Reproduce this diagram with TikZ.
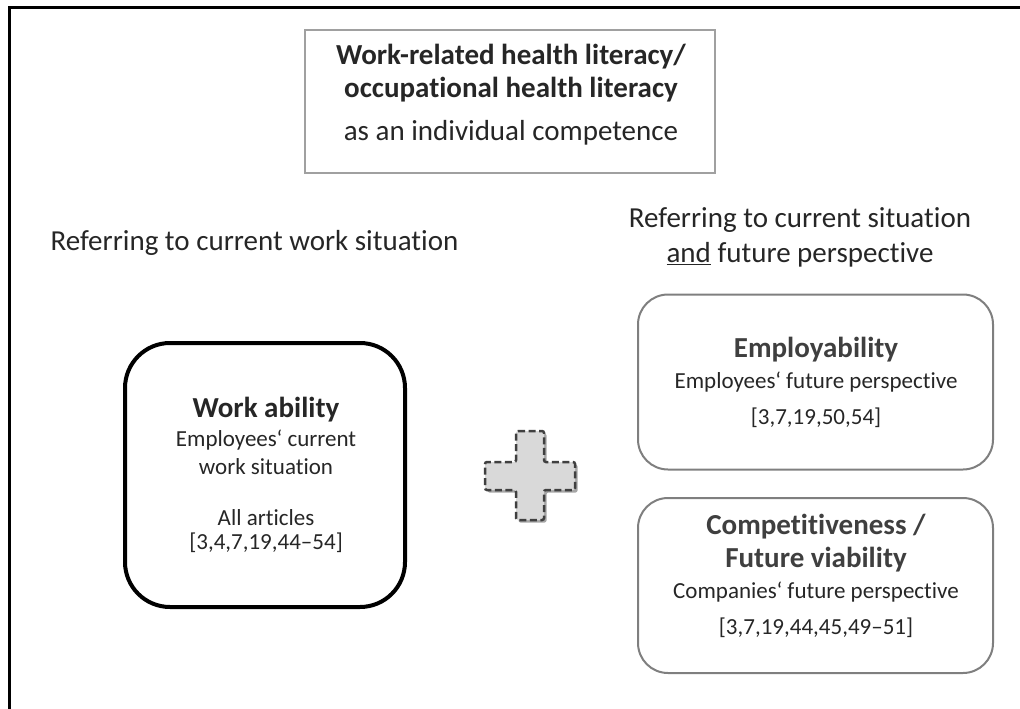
\documentclass[tikz,border=0pt]{standalone}
\usepackage{fontspec}
\setmainfont{Carlito}[Ligatures=NoCommon]
\usetikzlibrary{shadows}
\definecolor{txt}{HTML}{262626}
\definecolor{boxtxt}{HTML}{3F3F3F}
\definecolor{grayline}{HTML}{7F7F7F}
\definecolor{lightline}{HTML}{A0A0A0}
\definecolor{plusfill}{HTML}{D9D9D9}
\definecolor{plusline}{HTML}{404040}
\begin{document}
\begin{tikzpicture}[x=1pt,y=-1pt,
  lbl/.style={inner sep=0pt, text=txt, font=\fontsize{29}{34}\selectfont, align=center},
  boxtitle/.style={inner sep=0pt, font=\bfseries\fontsize{29}{34}\selectfont, align=center},
  boxsub/.style={inner sep=0pt, font=\fontsize{23}{27}\selectfont, align=center},
  graybox/.style={draw=grayline, line width=2pt, rounded corners=30pt, minimum width=355pt, minimum height=175pt, inner sep=0pt},
  blackbox/.style={draw=black, line width=4pt, rounded corners=45pt, minimum width=280pt, minimum height=264pt, inner sep=0pt},
  topbox/.style={draw=lightline, line width=1.5pt, minimum width=410pt, minimum height=143pt, inner sep=0pt},
  plusshape/.style={draw=plusline, fill=plusfill, line width=2.5pt, dash pattern=on 7pt off 3.5pt, rounded corners=2pt,
     drop shadow={shadow xshift=2.5pt, shadow yshift=-2.5pt, opacity=0.35, fill=black}}
]
\useasboundingbox (0,0) rectangle (1020,709);
% outer frame (left and top edges)
\draw[line width=3pt, black] (9,709) -- (9,8) -- (1020,8);

% top box
\node[topbox] (top) at (510,101.5) {};
\node[boxtitle, text=txt] (t1) at (511,57) {Work-related health literacy/};
\node[boxtitle, text=txt] (t2) at (511,90) {occupational health literacy};
\node[lbl] (t3) at (511,133) {as an individual competence};

% headings
\node[lbl] (hl) at (254.5,243) {Referring to current work situation};
\node[lbl] (hr1) at (800,220) {Referring to current situation};
\node[lbl] (hr2) at (800,255) {\underline{and} future perspective};

% work ability box
\node[blackbox] (wa) at (265,475) {};
\node[boxtitle, text=txt] (wa1) at (266,410) {Work ability};
\node[boxsub, text=txt] (wa2) at (266,440) {Employees‘ current};
\node[boxsub, text=txt] (wa3) at (266,467) {work situation};
\node[boxsub, text=txt] (wa4) at (266,518) {All articles};
\node[boxsub, text=txt] (wa5) at (266,543) {[3,4,7,19,44–54]};

% employability box
\node[graybox] (em) at (815.5,382) {};
\node[boxtitle, text=boxtxt] (em1) at (816,350) {Employability};
\node[boxsub, text=txt] (em2) at (816,382) {Employees‘ future perspective};
\node[boxsub, text=txt] (em3) at (816,418) {[3,7,19,50,54]};

% competitiveness box
\node[graybox] (co) at (815.5,585.5) {};
\node[boxtitle, text=boxtxt] (co1) at (816,527) {Competitiveness /};
\node[boxtitle, text=boxtxt] (co2) at (816,560) {Future viability};
\node[boxsub, text=txt] (co3) at (816,592) {Companies‘ future perspective};
\node[boxsub, text=txt] (co4) at (816,628) {[3,7,19,44,45,49–51]};

% plus sign
\draw[plusshape] (516,431) -- (544,431) -- (544,462) -- (575,462) -- (575,490) -- (544,490)
  -- (544,520) -- (516,520) -- (516,490) -- (485,490) -- (485,462) -- (516,462) -- cycle;
\end{tikzpicture}
\end{document}
